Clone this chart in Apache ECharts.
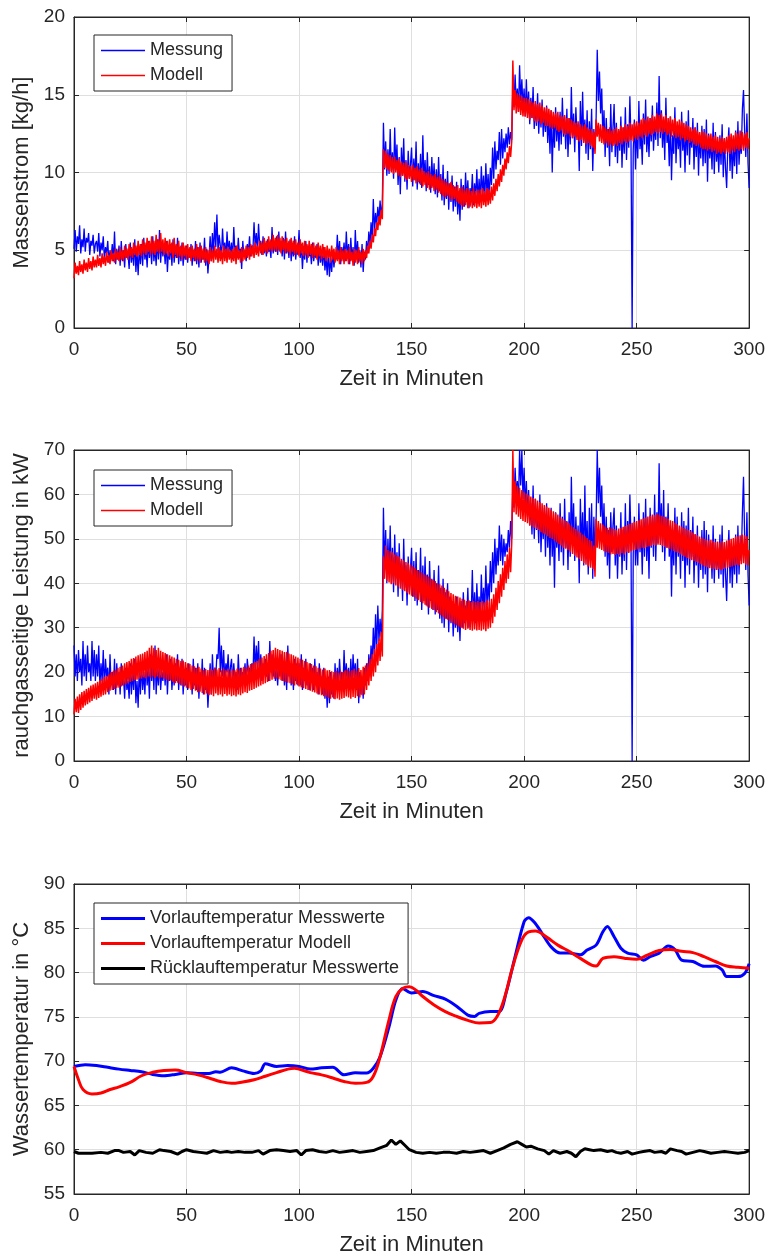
<!DOCTYPE html>
<html><head><meta charset="utf-8">
<script src="https://cdn.jsdelivr.net/npm/echarts@6/dist/echarts.min.js"></script>
<style>html,body{margin:0;padding:0;background:#fff}#c{width:768px;height:1259px}</style>
</head><body><div id="c"></div>
<script>
// ---------- Data (panels 1 and 2: one sample every half minute, 0..300 min) ----------
const xTicks = [0, 50, 100, 150, 200, 250, 300];
const sampleMinutes = 0.5;

const massMessung = [
 5.1,6.3,4.9,5.9,5.4,6.6,4.8,5.7,5.2,6.4,4.9,5.8,5.5,6.1,4.7,5.6,5.3,6.0,4.8,5.4,
 5.6,4.9,6.1,4.6,5.5,5.0,5.9,4.4,5.2,4.8,5.6,4.2,5.0,4.5,5.4,4.3,6.2,4.1,5.1,4.4,
 5.3,4.0,5.6,4.3,5.0,3.9,5.4,4.5,4.8,3.8,5.5,4.2,5.0,4.0,5.7,3.6,4.9,3.4,5.2,4.1,
 5.4,4.0,5.8,4.4,5.1,3.9,5.6,4.5,5.3,4.1,5.9,4.3,5.2,4.0,5.7,4.4,6.3,4.2,5.5,4.6,
 5.3,4.1,5.6,3.6,5.0,4.4,5.4,4.0,5.7,4.2,5.1,4.5,5.8,4.1,5.2,4.3,5.5,4.0,5.0,4.4,
 5.3,4.2,5.1,4.5,5.4,4.0,5.0,4.3,5.6,4.1,5.2,3.9,5.5,4.2,4.9,4.4,5.8,4.0,5.1,3.5,
 4.6,5.9,4.3,6.1,4.8,6.8,5.2,7.3,4.9,6.0,5.3,4.6,6.4,4.9,5.5,4.5,6.2,4.8,5.6,4.7,
 5.5,4.4,6.5,4.8,5.3,4.5,5.8,4.7,5.1,3.8,5.6,4.6,5.0,4.3,5.4,4.8,5.9,4.6,5.3,5.0,
 6.8,5.2,6.1,4.9,6.7,5.3,5.6,4.7,5.9,4.8,5.4,4.6,5.7,4.9,5.2,4.5,6.5,4.8,5.5,4.9,
 5.9,4.7,6.2,4.9,5.6,4.6,5.8,4.4,6.2,4.8,5.4,4.5,5.7,4.3,5.3,4.6,5.9,4.4,5.2,4.7,
 6.3,4.5,5.4,3.8,5.1,4.4,5.6,4.2,5.3,4.6,5.0,4.1,5.5,4.3,4.9,4.5,5.4,4.0,5.1,4.2,
 4.8,4.0,5.2,3.7,4.6,3.4,4.9,3.3,4.5,3.6,5.0,3.9,4.7,4.4,6.0,4.5,5.6,4.1,5.2,4.6,
 5.5,4.3,6.2,4.6,5.4,4.1,5.8,4.4,5.2,4.0,6.3,4.5,5.6,4.2,5.0,3.9,5.4,3.6,4.9,4.4,
 5.6,4.8,6.2,5.3,6.8,5.7,8.3,6.2,7.4,6.6,7.8,6.9,8.2,7.2,8.0,13.2,10.2,12.0,9.8,11.5,
 9.9,12.8,10.1,11.3,9.6,12.9,10.3,11.8,9.2,11.0,8.6,11.6,9.8,12.2,9.4,10.8,8.9,11.4,9.6,10.5,
 11.6,9.1,10.9,9.5,12.0,8.9,10.6,9.3,11.2,9.0,12.4,9.4,10.8,8.8,11.3,9.2,10.4,8.7,11.0,9.1,
 10.6,8.6,10.2,8.4,11.0,8.8,9.9,8.2,10.5,7.9,9.6,8.3,10.1,7.6,9.3,8.1,9.8,7.5,9.1,7.8,
 9.4,7.3,8.8,6.9,9.6,7.6,9.2,7.8,10.0,8.1,9.5,7.7,9.0,8.3,9.9,7.9,9.3,8.4,10.2,8.0,
 9.6,8.2,10.4,8.5,9.8,8.1,10.6,8.6,9.9,8.3,10.3,9.2,11.6,9.6,12.0,10.2,11.4,10.8,12.6,10.5,
 12.8,10.9,12.2,11.3,12.5,11.6,12.9,11.8,12.6,12.1,15.6,14.2,16.3,14.5,15.4,13.9,16.9,14.6,16.0,14.1,
 15.4,13.6,16.0,13.8,15.2,13.1,14.8,13.5,15.5,12.8,14.4,13.0,15.1,12.5,14.2,12.9,14.7,12.3,13.9,12.6,
 14.3,11.9,13.6,11.2,14.0,10.0,13.3,11.6,14.2,12.0,13.5,11.4,13.9,11.8,14.8,12.3,13.6,11.5,14.1,11.0,
 13.5,11.8,15.5,12.2,13.8,11.3,14.2,12.4,13.1,10.1,14.6,11.7,15.2,12.0,13.4,11.2,14.0,10.8,13.3,11.5,
 14.1,10.1,12.8,11.5,13.5,17.9,14.6,16.5,13.8,15.4,12.2,14.0,11.0,13.5,11.6,12.8,10.4,14.4,11.3,12.9,
 14.4,11.0,13.2,10.6,12.7,11.4,13.6,10.3,12.9,11.2,14.2,10.8,13.1,11.6,14.9,12.0,0.0,11.5,13.4,10.2,
 13.0,10.9,14.6,11.5,12.6,10.5,13.8,11.8,14.7,11.3,12.9,11.0,13.5,12.0,14.3,11.4,13.2,12.1,14.5,11.7,
 16.2,12.2,14.0,11.6,13.4,10.8,14.8,11.9,12.8,10.4,13.6,9.5,12.4,11.2,14.2,10.6,13.0,11.5,12.6,10.3,
 13.9,11.4,12.7,10.0,13.3,11.1,14.0,10.5,12.6,11.6,13.5,10.2,12.9,11.0,13.2,9.8,12.4,10.9,13.0,10.4,
 12.8,10.6,13.4,9.4,12.5,10.9,12.1,10.2,13.2,9.9,12.6,10.7,11.9,10.0,12.4,10.5,13.1,9.7,12.2,10.3,
 9.0,11.6,12.9,10.1,12.3,9.6,11.8,10.4,12.7,9.9,13.3,10.5,12.0,11.2,14.1,15.3,12.6,11.0,13.8,10.6,
 9.0
];

const massModell = [
 3.2,4.2,3.5,4.0,3.4,4.3,3.6,4.1,3.5,4.4,3.7,4.2,3.6,4.5,3.8,4.3,3.7,4.6,3.9,4.4,
 3.9,4.7,4.0,4.5,3.9,4.8,4.1,4.6,4.0,4.9,4.2,4.7,4.1,5.0,4.3,4.8,4.2,5.1,4.4,4.9,
 4.3,5.2,4.4,5.0,4.3,5.3,4.5,5.1,4.4,5.4,4.6,5.2,4.5,5.5,4.7,5.3,4.6,5.6,4.7,5.4,
 4.6,5.7,4.8,5.5,4.7,5.8,4.9,5.6,4.7,5.9,4.8,5.6,4.7,6.0,4.9,5.7,4.8,6.1,4.9,5.7,
 4.7,5.8,4.8,5.6,4.6,5.7,4.8,5.5,4.5,5.8,4.7,5.4,4.5,5.6,4.6,5.3,4.4,5.5,4.6,5.3,
 4.4,5.4,4.5,5.2,4.3,5.3,4.5,5.1,4.3,5.4,4.4,5.2,4.2,5.3,4.4,5.1,4.2,5.2,4.3,5.0,
 4.1,5.2,4.3,5.0,4.2,5.3,4.4,5.1,4.2,5.2,4.3,5.0,4.1,5.3,4.3,5.1,4.2,5.2,4.4,5.0,
 4.2,5.1,4.3,5.2,4.1,5.3,4.4,5.0,4.2,5.2,4.3,5.1,4.4,5.3,4.5,5.2,4.4,5.4,4.6,5.3,
 4.5,5.5,4.7,5.3,4.6,5.6,4.8,5.5,4.7,5.8,4.9,5.6,4.8,5.9,5.0,5.7,4.9,6.0,5.0,5.8,
 4.9,6.0,5.0,5.8,4.8,5.9,5.0,5.7,4.8,5.8,4.9,5.6,4.7,5.8,4.9,5.6,4.7,5.7,4.8,5.5,
 4.6,5.7,4.8,5.5,4.6,5.6,4.7,5.4,4.5,5.6,4.7,5.4,4.5,5.5,4.6,5.3,4.4,5.5,4.6,5.3,
 4.4,5.4,4.5,5.2,4.3,5.3,4.5,5.1,4.2,5.3,4.4,5.1,4.2,5.2,4.3,5.0,4.1,5.2,4.3,5.0,
 4.1,5.1,4.3,5.0,4.1,5.2,4.3,4.9,4.0,5.1,4.2,5.0,4.1,5.2,4.3,4.9,4.1,5.1,4.3,5.0,
 4.5,5.3,4.8,5.6,5.1,6.0,5.5,6.4,5.9,6.8,6.3,7.2,6.6,7.6,7.0,11.5,10.3,11.4,10.2,11.2,
 10.1,11.1,10.0,11.0,9.9,11.0,10.0,10.8,9.8,10.9,9.7,10.7,9.8,10.6,9.6,10.7,9.5,10.5,9.6,10.4,
 9.4,10.5,9.5,10.3,9.3,10.4,9.4,10.2,9.2,10.3,9.1,10.1,9.2,10.0,9.0,10.1,8.9,9.9,9.0,9.8,
 8.8,9.9,8.9,9.7,8.7,9.8,8.6,9.6,8.5,9.5,8.4,9.4,8.5,9.3,8.3,9.4,8.2,9.2,8.3,9.1,
 8.1,9.2,8.0,9.0,7.9,9.1,7.8,8.9,7.9,9.0,7.7,8.9,7.8,8.8,7.7,9.0,7.8,8.8,7.7,8.9,
 7.8,8.9,7.7,9.0,7.9,8.8,7.8,9.0,7.9,8.9,8.0,9.1,8.2,9.3,8.5,9.6,8.8,9.9,9.1,10.2,
 9.4,10.5,9.8,10.9,10.2,11.3,10.6,11.7,11.0,12.0,17.2,14.0,15.3,13.8,15.1,13.9,15.0,13.7,14.9,13.6,
 14.8,13.6,14.8,13.5,14.7,13.4,14.6,13.5,14.5,13.3,14.6,13.2,14.4,13.3,14.5,13.1,14.3,13.2,14.2,13.0,
 14.2,13.0,14.1,12.9,14.0,12.8,13.9,12.9,13.8,12.7,13.9,12.6,13.7,12.7,13.6,12.5,13.7,12.4,13.5,12.5,
 13.5,12.3,13.4,12.2,13.3,12.3,13.2,12.1,13.3,12.0,13.1,12.1,13.0,11.9,13.1,11.8,12.9,11.9,12.8,11.7,
 12.8,11.6,12.6,11.2,13.4,12.3,13.2,12.0,13.1,11.9,13.0,11.8,12.9,11.9,12.8,11.7,12.9,11.8,12.7,11.7,
 12.8,11.8,12.9,11.7,12.8,11.9,13.0,11.8,12.9,12.0,13.1,11.9,13.0,12.0,13.2,12.1,13.1,12.0,13.2,12.2,
 13.3,12.1,13.2,12.3,13.4,12.2,13.5,12.4,13.4,12.3,13.6,12.5,13.5,12.4,13.7,12.5,13.6,12.6,13.8,12.5,
 13.7,12.6,13.8,12.5,13.6,12.6,13.7,12.4,13.5,12.5,13.6,12.3,13.4,12.4,13.5,12.2,13.3,12.3,13.4,12.1,
 13.3,12.2,13.2,12.0,13.1,12.1,13.0,11.9,12.9,12.0,12.8,11.8,12.9,11.7,12.7,11.8,12.6,11.6,12.7,11.5,
 12.6,11.5,12.5,11.4,12.4,11.5,12.5,11.3,12.3,11.4,12.4,11.2,12.3,11.3,12.2,11.2,12.3,11.3,12.2,11.2,
 12.3,11.3,12.4,11.2,12.5,11.4,12.4,11.3,12.6,11.5,12.5,11.4,12.7,11.5,12.6,11.4,12.5,11.6,12.6,11.5,
 12.2
];

const powerMessung = [
 26,19,24,18,25,20,23,17,27,19,24,18,26,20,22,18,27,19,25,18,
 24,19,26,17,22,18,25,16,23,19,21,15,24,17,20,16,23,15,22,17,
 20,15,22,17,19,14,21,16,18,14,22,15,20,16,23,13,18,12,21,15,
 22,16,20,15,23,17,21,14,24,18,22,16,26,15,21,17,23,16,20,18,
 22,17,24,15,21,18,23,16,20,17,22,18,24,16,21,17,23,15,20,17,
 21,16,22,18,20,15,23,17,21,16,22,14,20,17,23,15,21,16,19,12,
 17,22,15,24,18,21,19,24,23,30,20,26,19,25,18,22,20,24,18,21,
 23,17,22,18,20,16,24,18,21,17,20,19,22,17,23,20,21,18,22,19,
 28,20,26,21,27,19,24,18,22,20,23,19,21,18,27,20,24,19,22,18,
 21,17,23,19,24,18,22,17,21,16,26,19,22,17,21,16,23,18,22,17,
 22,17,24,16,21,18,23,17,20,16,22,18,21,16,23,17,20,15,22,18,
 19,15,21,14,18,12,19,13,20,15,18,14,22,16,21,17,23,18,20,16,
 25,18,22,17,21,16,23,17,24,19,22,16,23,13,20,15,19,14,21,17,
 22,18,24,20,26,22,30,23,33,25,35,27,32,28,34,57,43,52,40,50,
 42,53,40,48,38,51,41,47,37,49,40,45,36,50,39,44,35,46,38,43,
 48,37,45,36,47,35,43,38,48,34,44,36,46,35,42,33,45,36,41,34,
 43,33,40,34,44,32,39,31,41,30,38,32,40,29,37,31,36,28,35,30,
 37,29,34,27,36,30,38,31,35,32,39,30,36,33,43,32,38,31,40,33,
 37,32,42,34,39,33,44,35,40,36,45,38,47,40,50,42,48,44,53,45,
 51,44,50,46,49,47,52,48,54,50,62,57,66,60,63,58,70,62,70,59,
 66,57,63,55,61,53,58,51,62,50,59,52,56,49,60,47,55,50,57,46,
 58,48,55,44,57,46,54,39,56,48,53,45,58,47,55,44,59,48,54,43,
 56,46,64,49,58,45,55,47,53,40,59,48,56,44,62,46,54,42,57,45,
 58,41,55,45,54,70,58,66,55,62,50,58,46,55,44,52,41,56,47,53,
 57,44,53,41,51,46,56,42,52,45,58,43,54,47,60,50,0,47,55,44,
 52,44,58,47,53,42,56,46,59,45,53,41,57,48,55,46,60,45,56,49,
 67,50,58,47,61,45,55,48,58,46,53,37,52,44,57,42,55,46,52,41,
 56,45,54,39,53,44,57,42,52,46,55,40,51,44,53,39,50,43,52,41,
 54,42,52,38,51,44,49,41,53,40,50,43,48,41,51,42,53,39,49,42,
 36,46,52,40,49,39,48,42,51,40,53,42,49,45,56,64,50,43,56,42,
 35
];

const powerModell = [
 10.5,14.0,11.0,14.5,10.8,15.0,11.5,15.5,12.0,15.8,12.5,16.2,12.8,16.5,13.2,17.0,13.5,17.2,14.0,17.5,
 13.8,17.8,14.2,18.2,14.5,18.5,14.8,19.0,15.0,19.2,15.5,19.5,15.8,20.0,16.0,20.3,16.2,20.5,16.5,21.0,
 16.5,21.2,16.8,21.5,17.0,22.0,17.2,22.3,17.5,22.5,17.8,23.0,18.0,23.2,18.2,23.5,18.3,23.8,18.5,24.0,
 18.5,24.2,18.8,24.5,18.6,24.8,19.0,25.5,18.8,26.0,19.0,25.5,18.7,25.0,19.0,25.5,18.6,24.8,18.8,24.5,
 18.5,24.3,18.3,24.0,18.0,23.8,18.2,23.5,17.8,23.3,17.5,23.0,17.6,22.8,17.3,22.5,17.0,22.6,16.8,22.3,
 16.5,22.0,16.3,21.8,16.0,21.5,16.2,21.3,15.8,21.0,15.5,21.2,15.6,20.8,15.3,20.5,15.0,20.7,15.2,20.5,
 14.8,20.8,15.0,20.5,14.6,21.0,15.2,20.6,14.8,20.9,15.0,20.4,14.5,20.8,15.1,20.5,14.7,20.7,15.0,20.3,
 14.6,20.6,14.8,20.4,14.5,20.8,15.0,20.6,14.8,21.0,15.2,21.2,15.5,21.0,15.3,21.5,15.8,21.8,16.0,22.0,
 16.2,22.3,16.5,22.5,16.8,23.0,17.0,23.3,17.3,23.6,17.5,24.0,17.8,24.3,18.0,24.8,18.3,25.0,18.5,25.5,
 18.6,25.2,18.4,25.0,18.2,24.8,18.0,24.5,17.8,24.6,17.6,24.2,17.5,24.0,17.3,23.8,17.0,23.5,17.2,23.3,
 16.8,23.0,16.6,22.8,16.4,22.5,16.2,22.3,16.0,22.0,15.8,21.8,15.6,21.5,15.4,21.3,15.2,21.0,15.0,20.8,
 14.8,20.6,14.6,20.8,14.5,20.4,14.2,20.5,14.0,20.2,14.3,20.0,13.9,20.3,14.1,19.9,13.8,20.2,14.0,20.0,
 14.2,20.4,14.5,20.6,14.3,20.2,14.0,20.5,14.4,20.8,14.2,20.3,14.6,20.9,14.3,20.5,14.8,21.2,15.0,21.5,
 16.0,22.0,17.0,23.0,18.0,24.0,19.0,25.2,20.0,26.3,21.5,27.5,22.5,29.0,23.5,46.0,41.0,48.5,40.5,47.5,
 40.2,47.2,39.8,47.0,40.0,46.5,39.5,46.2,39.2,46.0,38.8,45.5,38.5,45.2,38.2,44.8,37.8,44.5,37.5,44.2,
 37.2,43.8,37.0,43.5,36.5,43.0,36.2,42.8,35.8,42.5,35.5,42.0,35.2,41.8,34.8,41.5,34.5,41.0,34.2,40.8,
 34.0,40.5,33.5,40.0,33.2,39.8,32.8,39.5,32.5,39.0,32.0,38.6,31.8,38.2,31.5,37.8,31.2,37.5,30.8,37.2,
 30.5,37.0,30.2,36.8,30.0,36.5,29.8,36.3,29.5,36.0,29.8,36.2,29.5,35.8,29.3,36.0,29.6,35.8,29.4,36.0,
 29.5,35.8,29.3,36.0,29.6,35.7,29.2,36.2,29.8,36.0,30.0,36.5,31.0,37.5,32.5,39.0,34.0,40.5,35.5,42.0,
 37.0,43.5,38.5,45.0,40.0,46.5,41.0,48.0,42.5,49.0,70.0,56.0,63.0,55.5,62.0,55.0,61.5,54.5,61.0,54.0,
 60.5,53.8,60.2,53.5,59.8,53.0,59.5,52.8,59.2,52.5,59.0,52.2,58.6,52.0,58.3,51.5,58.0,51.2,57.6,51.0,
 57.3,50.6,57.0,50.2,56.6,50.0,56.2,49.5,55.8,49.2,55.5,48.8,55.0,48.5,54.6,48.0,54.2,47.8,53.8,47.5,
 53.5,47.0,53.0,46.6,52.6,46.2,52.2,45.8,51.8,45.5,51.4,45.0,51.0,44.6,50.6,44.2,50.2,43.8,49.8,43.5,
 49.5,43.2,48.5,41.5,54.5,48.0,54.0,47.8,53.5,47.5,53.2,47.2,52.8,47.0,52.5,46.8,52.6,46.5,52.3,46.6,
 52.2,46.4,52.0,46.6,52.3,46.3,52.5,46.8,52.7,46.5,52.9,47.0,53.1,46.8,53.4,47.2,53.6,47.4,53.8,47.5,
 54.0,47.6,54.2,47.8,54.4,48.0,54.6,47.9,54.8,48.2,55.0,48.3,55.2,48.4,55.5,48.6,55.3,48.5,55.6,48.7,
 55.4,48.6,55.2,48.4,55.0,48.2,54.8,48.0,54.5,47.8,54.2,47.6,54.0,47.3,53.6,47.0,53.3,46.8,53.0,46.5,
 52.8,46.2,52.5,46.0,52.2,45.7,52.0,45.5,51.7,45.2,51.4,45.0,51.1,44.8,50.8,44.5,50.5,44.3,50.3,44.0,
 50.0,43.8,49.8,43.6,49.6,43.4,49.8,43.2,49.5,43.3,49.3,43.0,49.4,43.2,49.2,43.0,49.5,43.2,49.3,43.4,
 49.6,43.5,49.8,43.7,50.0,43.8,50.2,44.0,50.5,44.2,50.6,44.0,50.8,44.3,51.0,44.5,50.8,44.2,50.6,44.0,
 47.5
];

// ---------- Panel 3: water temperatures ----------
const vorlaufMessTime = [
 0,5,10,15,20,25,30,35,40,45, 50,55,60,63,65,70,75,80,83,85,
 90,95,100,105,110,115,120,125,130,133, 136,140,143,146,150,155,160,165,170,175,
 178,180,185,189,192,196,200,202,205,208, 212,216,220,225,228,232,235,237,240,243,
 246,250,253,256,260,264,267,270,275,280, 285,288,290,295,298,300
];
const vorlaufMess = [
 69.4,69.6,69.5,69.3,69.1,68.95,68.8,68.5,68.35,68.5, 68.7,68.6,68.6,68.8,68.75,69.25,68.9,68.6,68.9,69.7,
 69.4,69.5,69.4,69.1,69.25,69.3,68.45,68.7,68.65,69.2, 70.5,73.9,76.9,78.2,77.7,77.85,77.4,77.0,76.2,75.2,
 75.05,75.4,75.6,75.6,77.7,81.8,85.75,86.2,85.55,84.4, 82.9,82.2,82.2,82.0,82.55,83.1,84.6,85.2,84.05,82.75,
 82.2,82.0,81.4,81.8,82.2,83.0,82.6,81.4,81.25,80.7, 80.75,80.3,79.55,79.55,79.9,81.0
];
const vorlaufModTime = [
 0,2,4,8,12,16,20,25,30,35, 40,45,50,55,60,65,70,75,80,85,
 90,95,98,100,105,110,115,120,125,130, 133,136,140,143,146,149,152,155,160,165,
 170,175,180,185,188,191,195,199,202,205, 210,215,220,225,230,232,235,240,245,250,
 255,260,265,270,275,280,285,290,295,300
];
const vorlaufMod = [
 69.4,67.9,66.8,66.3,66.4,66.8,67.1,67.6,68.35,68.75, 68.95,69.0,68.7,68.45,68.1,67.7,67.5,67.65,67.9,68.3,
 68.7,69.1,69.2,69.1,68.7,68.45,68.1,67.7,67.5,67.6, 68.3,70.5,74.7,77.3,78.2,78.4,78.0,77.3,76.35,75.6,
 75.05,74.6,74.3,74.35,75.05,76.9,80.7,83.7,84.6,84.7, 84.0,83.1,82.4,81.6,80.85,80.75,81.6,81.8,81.6,81.5,
 82.0,82.5,82.6,82.4,82.25,81.8,81.25,80.75,80.6,80.5
];
const ruecklaufTime = [
 0,2,5,8,12,15,18,20,22,25, 27,29,32,35,38,40,43,46,48,50,
 53,56,59,62,65,68,70,73,76,79, 82,84,87,90,93,96,99,101,103,106,
 109,112,115,118,121,124,127,130,133,136, 139,141,143,145,147,149,152,155,158,161,
 164,167,170,173,176,179,182,185,188,191, 194,197,199,201,203,206,209,211,213,216,
 219,221,223,225,227,229,231,234,237,239, 241,243,246,248,251,253,256,258,261,263,
 265,268,270,272,275,278,280,283,286,289, 292,295,298,300
];
const ruecklauf = [
 59.8,59.6,59.6,59.6,59.7,59.6,59.9,59.9,59.7,59.8, 59.4,59.9,59.7,59.6,60.0,59.9,59.8,59.5,59.8,60.0,
 59.8,59.7,59.6,59.9,59.7,59.8,59.7,59.8,59.7,59.7, 59.9,59.5,59.9,60.0,59.9,59.8,59.9,59.4,59.9,60.0,
 59.8,59.7,59.9,59.7,59.8,59.9,59.7,59.8,59.9,60.2, 60.5,61.1,60.6,61.0,60.5,60.0,59.7,59.6,59.7,59.6,
 59.7,59.7,59.6,59.8,59.7,59.8,59.9,59.6,59.9,60.2, 60.6,60.9,60.6,60.3,60.4,60.1,59.9,59.5,59.9,59.6,
 59.8,59.6,59.2,59.8,60.1,60.0,59.9,60.0,59.8,59.9, 59.7,59.6,59.8,59.5,59.7,59.8,59.9,59.7,59.8,59.6,
 60.1,59.9,59.8,59.5,59.7,59.9,59.8,59.6,59.7,59.8, 59.7,59.6,59.7,59.9
];

// ---------- Chart ----------
const FONT = '"Liberation Sans", Arial, Helvetica, sans-serif';
const TXT = '#262626';
const GRIDC = '#dfdfdf';

const sampled = arr => arr.map((v, i) => [i * sampleMinutes, v]);
const pairs = (t, v) => t.map((x, i) => [x, v[i]]);

const panels = [
  { top: 17,  height: 311, ymin: 0,  ymax: 20, yint: 5,  yname: 'Massenstrom [kg/h]' },
  { top: 450, height: 311, ymin: 0,  ymax: 70, yint: 10, yname: 'rauchgasseitige Leistung in kW' },
  { top: 884, height: 310, ymin: 55, ymax: 90, yint: 5,  yname: 'Wassertemperatur in °C' }
];

const grid = [], xAxis = [], yAxis = [];
panels.forEach((p, i) => {
  grid.push({ left: 74, right: 17, top: p.top, height: p.height, show: true,
              borderColor: TXT, borderWidth: 1, backgroundColor: '#fff' });
  xAxis.push({ type: 'value', gridIndex: i, min: xTicks[0], max: xTicks[xTicks.length - 1], interval: 50,
    position: 'bottom',
    name: 'Zeit in Minuten', nameLocation: 'middle', nameGap: 40,
    nameTextStyle: { fontFamily: FONT, fontSize: 22, color: TXT },
    axisLine: { show: true, onZero: false, lineStyle: { color: TXT, width: 1 } },
    axisTick: { show: true, inside: true, length: 5, lineStyle: { color: TXT } },
    axisLabel: { fontFamily: FONT, fontSize: 19, color: TXT, margin: 12 },
    splitLine: { show: true, lineStyle: { color: GRIDC, width: 1 } } });
  xAxis.push({ type: 'value', gridIndex: i, min: xTicks[0], max: xTicks[xTicks.length - 1], interval: 50, position: 'top',
    axisLine: { show: true, onZero: false, lineStyle: { color: TXT } },
    axisTick: { show: true, inside: true, length: 5, lineStyle: { color: TXT } },
    axisLabel: { show: false }, splitLine: { show: false } });
  yAxis.push({ type: 'value', gridIndex: i, min: p.ymin, max: p.ymax, interval: p.yint, position: 'left',
    name: p.yname, nameLocation: 'middle', nameGap: 37,
    nameTextStyle: { fontFamily: FONT, fontSize: 22, color: TXT },
    axisLine: { show: true, onZero: false, lineStyle: { color: TXT } },
    axisTick: { show: true, inside: true, length: 5, lineStyle: { color: TXT } },
    axisLabel: { fontFamily: FONT, fontSize: 19, color: TXT, margin: 9 },
    splitLine: { show: true, lineStyle: { color: GRIDC, width: 1 } } });
  yAxis.push({ type: 'value', gridIndex: i, min: p.ymin, max: p.ymax, interval: p.yint, position: 'right',
    axisLine: { show: true, onZero: false, lineStyle: { color: TXT } },
    axisTick: { show: true, inside: true, length: 5, lineStyle: { color: TXT } },
    axisLabel: { show: false }, splitLine: { show: false } });
});

const lineSeries = (name, data, idx, color, width, smooth) => ({
  type: 'line', name, data, xAxisIndex: idx * 2, yAxisIndex: idx * 2,
  symbol: 'none', showSymbol: false, smooth: smooth || false, clip: true,
  lineStyle: { color, width }, itemStyle: { color }, emphasis: { disabled: true }
});

const series = [
  lineSeries('Messung', sampled(massMessung), 0, '#0000ff', 1.3),
  lineSeries('Modell', sampled(massModell), 0, '#ff0000', 1.5),
  lineSeries('Messung', sampled(powerMessung), 1, '#0000ff', 1.3),
  lineSeries('Modell', sampled(powerModell), 1, '#ff0000', 1.5),
  lineSeries('Vorlauftemperatur Messwerte', pairs(vorlaufMessTime, vorlaufMess), 2, '#0000ff', 3, 0.3),
  lineSeries('Vorlauftemperatur Modell', pairs(vorlaufModTime, vorlaufMod), 2, '#ff0000', 3, 0.4),
  lineSeries('Rücklauftemperatur Messwerte', pairs(ruecklaufTime, ruecklauf), 2, '#000000', 3)
];

const legendBase = {
  orient: 'vertical', left: 94, itemWidth: 44, itemGap: 6, icon: 'rect',
  padding: [6, 9, 6, 7], borderColor: TXT, borderWidth: 1, backgroundColor: '#fff',
  selectedMode: false,
  textStyle: { fontFamily: FONT, fontSize: 18, color: TXT, lineHeight: 19 }
};

const option = {
  animation: false,
  backgroundColor: '#fff',
  grid, xAxis, yAxis, series,
  legend: [
    Object.assign({}, legendBase, { top: 35, itemHeight: 1.5, data: ['Messung', 'Modell'] }),
    Object.assign({}, legendBase, { top: 470, itemHeight: 1.5, data: ['Messung', 'Modell'] }),
    Object.assign({}, legendBase, { top: 903, itemHeight: 3,
      data: ['Vorlauftemperatur Messwerte', 'Vorlauftemperatur Modell', 'Rücklauftemperatur Messwerte'] })
  ]
};

const chart = echarts.init(document.getElementById('c'), null, { renderer: 'canvas' });
chart.setOption(option);
</script>
</body></html>
